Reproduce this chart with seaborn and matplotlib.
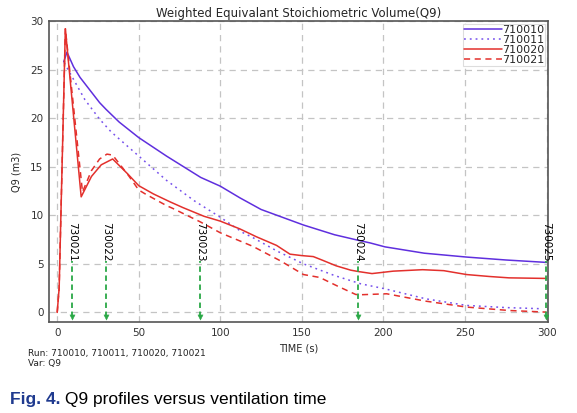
import pandas as pd
import matplotlib.pyplot as plt
import seaborn as sns

# Q9 profiles per run
t_710010 = [4, 6, 10, 14, 20, 26, 30, 38, 50, 67, 88, 100, 112, 125, 151, 170, 184, 192, 201, 225, 251, 275, 300]
v_710010 = [25.8, 26.8, 25.3, 24.2, 22.9, 21.6, 20.9, 19.6, 18.0, 16.1, 13.9, 13.0, 11.8, 10.6, 9.0, 8.0, 7.45, 7.15, 6.75, 6.1, 5.7, 5.4, 5.15]

t_710011 = [4.3, 8, 17, 26, 33, 50, 67, 84, 100, 114, 120, 135, 151, 170, 186, 201, 226, 251, 275, 297]
v_710011 = [25.7, 24.6, 21.9, 19.9, 18.6, 16.1, 13.6, 11.5, 9.8, 8.2, 7.7, 6.3, 5.0, 3.8, 2.95, 2.43, 1.4, 0.72, 0.5, 0.38]

t_710020 = [0, 1.2, 5, 14.7, 21, 27, 34, 43, 50, 59, 69, 77, 90, 100, 112, 122, 134.5, 142.7, 150, 157, 163, 171, 180, 185, 193, 206, 224, 237, 251, 265, 277, 300]
v_710020 = [0, 2.5, 29.2, 11.9, 14.0, 15.2, 15.8, 14.3, 13.05, 12.2, 11.4, 10.8, 9.9, 9.4, 8.6, 7.8, 6.9, 6.0, 5.85, 5.75, 5.35, 4.8, 4.35, 4.2, 4.0, 4.25, 4.4, 4.3, 3.9, 3.7, 3.56, 3.5]

t_710021 = [0, 1.2, 5, 15.5, 21, 26, 30.5, 34, 43.7, 50, 54, 67, 71, 88, 100, 110, 120, 137, 151, 161, 172, 183, 186, 202, 226, 251, 277, 300]
v_710021 = [0, 2.5, 29.2, 12.4, 14.6, 15.8, 16.3, 16.2, 14.1, 12.6, 12.2, 11.0, 10.7, 9.3, 8.2, 7.5, 6.8, 5.3, 3.9, 3.6, 2.7, 1.85, 1.82, 1.92, 1.16, 0.55, 0.2, 0.03]

event_t = [9.2, 30, 87.6, 184.3, 299.5]
event_labels = ['730021', '730022', '730023', '730024', '730025']

series = [
    ('710010', t_710010, v_710010, '#5f2fde', '-'),
    ('710011', t_710011, v_710011, '#7650ec', (0, (1.2, 2.6))),
    ('710020', t_710020, v_710020, '#e3302c', '-'),
    ('710021', t_710021, v_710021, '#e3302c', (0, (4, 3))),
]

sns.set_style('white')
plt.rcParams['font.family'] = ['DejaVu Sans']

fig = plt.figure(figsize=(5.77, 4.13), dpi=100)
ax = fig.add_axes([0.085, 0.22, 0.865, 0.729])

for name, t, v, col, ls in series:
    sns.lineplot(x=t, y=v, ax=ax, color=col, linestyle=ls, linewidth=1.1, label=name)

# event markers
green = '#2aa846'
ax.vlines(event_t, -0.5, 5.3, colors=green, linestyles=(0, (3, 2)), linewidth=1.3)
sns.scatterplot(x=event_t, y=[-0.45] * len(event_t), ax=ax, marker='v', color=green,
                s=14, edgecolor=green, legend=False, zorder=5)
for t, lab in zip(event_t, event_labels):
    ax.text(t, 9.3, lab, rotation=270, ha='center', va='top', fontsize=7.5, color='black')

ax.set_xlim(-5, 301)
ax.set_ylim(-1, 30)
ax.set_xticks(range(0, 301, 50))
ax.set_yticks(range(0, 31, 5))
ax.grid(True, color='#c4c4c4', linestyle=(0, (5, 4)), linewidth=0.9)
ax.tick_params(length=0, labelsize=7.5, colors='#333333', pad=4)
for s in ax.spines.values():
    s.set_color('#555555')
    s.set_linewidth(1.2)

ax.set_title('Weighted Equivalant Stoichiometric Volume(Q9)', fontsize=8.5, pad=3)
ax.set_xlabel('TIME (s)', fontsize=7, labelpad=4)
ax.set_ylabel('Q9 (m3)', fontsize=7, labelpad=6)

leg = ax.legend(loc='upper right', fontsize=8, labelspacing=0.0, handlelength=3.4,
                handletextpad=0.0, borderpad=0.1, borderaxespad=0.25, fancybox=False,
                framealpha=1, edgecolor='#dddddd')
leg.get_frame().set_linewidth(0.8)

fig.text(0.049, 0.145, 'Run: 710010, 710011, 710020, 710021', fontsize=6.5, va='center', color='#222222')
fig.text(0.049, 0.121, 'Var: Q9', fontsize=6.5, va='center', color='#222222')

cap = fig.text(0.017, 0.022, 'Fig. 4.', fontsize=12.5, fontweight='bold', color='#1f3a8f',
               family=['Liberation Sans'], va='baseline')
# rest of the caption right after the bold part
ax.annotate(' Q9 profiles versus ventilation time', xy=(1, 0), xycoords=cap,
            va='bottom', ha='left', fontsize=12.5, color='black', family=['Liberation Sans'],
            annotation_clip=False)

fig.savefig('out.png', dpi=100)
